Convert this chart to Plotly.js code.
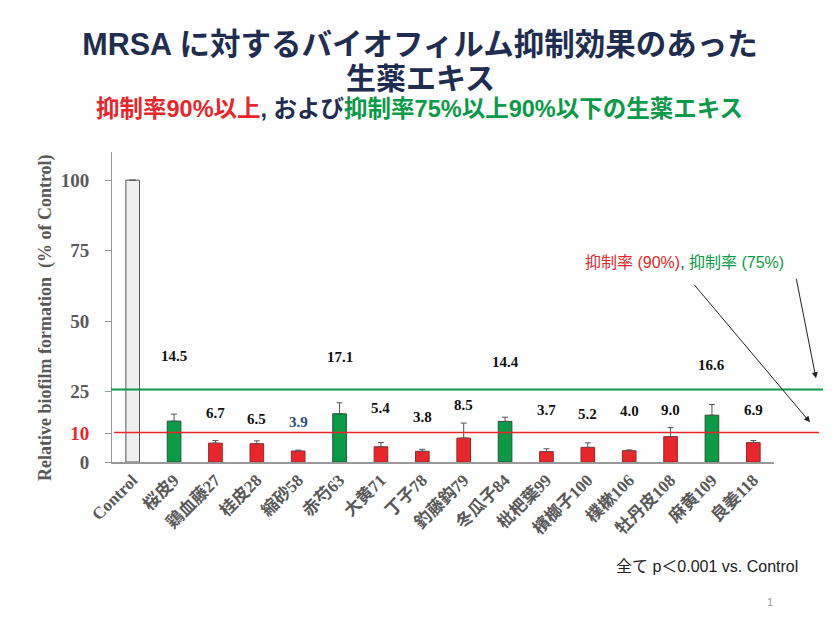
<!DOCTYPE html>
<html>
<head>
<meta charset="utf-8">
<script src="https://cdn.plot.ly/plotly-3.0.1.min.js"></script>
<style>html,body{margin:0;padding:0;background:#fff;}#chart{width:840px;height:632px;}</style>
</head>
<body>
<div id="chart"></div>
<script>
// ---- data ----
const categories = ["Control","桜皮9","鶏血藤27","桂皮28","縮砂58","赤芍63","大黄71","丁子78","釣藤鈎79","冬瓜子84","枇杷葉99","檳榔子100","樸樕106","牡丹皮108","麻黄109","良姜118"];
const values     = [100, 14.5, 6.7, 6.5, 3.9, 17.1, 5.4, 3.8, 8.5, 14.4, 3.7, 5.2, 4.0, 9.0, 16.6, 6.9];
const errors     = [null, 2.5, 0.9, 1.0, 0.3, 3.9, 1.5, 0.7, 5.3, 1.5, 1.0, 1.6, 0.3, 3.2, 3.8, 0.7];
const groups     = ["control","75","90","90","90","75","90","90","90","75","90","90","90","90","75","90"];
const valueLabels = ["", "14.5","6.7","6.5","3.9","17.1","5.4","3.8","8.5","14.4","3.7","5.2","4.0","9.0","16.6","6.9"];
const labelHeights = [null, 37.6, 17.4, 15.2, 14.2, 37.3, 19.0, 16.0, 20.1, 35.5, 18.6, 17.2, 18.0, 18.4, 34.3, 18.4];
const threshold90 = 10.5;   // 抑制率90% line (drawn at ~10)
const threshold75 = 25.7;   // 抑制率75% line (drawn at ~25)
const yTickVals = [0, 10, 25, 50, 75, 100];
const yTickText = ["0", "10", "25", "50", "75", "100"];

// ---- styles ----
const RED = "#e8262c", GREEN = "#0a9a48", NAVY = "#1f2d50", GRAY = "#595959";
const fillFor = {control: "#efefef", "90": RED, "75": GREEN};
const lineFor = {control: "#555555", "90": "#9a2a2a", "75": "#1f5a30"};

const W = 840, H = 632, ML = 112, MR = 66, MT = 152, MB = 170;
const plotH = H - MT - MB, plotW = W - ML - MR;
const py = p => (H - MB - p) / plotH;          // pixel y -> paper y
const px = p => (p - ML) / plotW;              // pixel x -> paper x

const trace = {
  type: "bar",
  x: categories,
  y: values,
  width: 0.33,
  marker: {
    color: groups.map(g => fillFor[g]),
    line: {color: groups.map(g => lineFor[g]), width: 1}
  },
  error_y: {type: "data", symmetric: false, array: errors, arrayminus: errors.map(() => 0),
            color: "#555555", thickness: 1, width: 3, visible: true},
  hoverinfo: "x+y"
};

const annotations = [];
categories.forEach((c, i) => {
  if (!valueLabels[i]) return;
  annotations.push({
    x: c, y: labelHeights[i], xref: "x", yref: "y", text: "<b>" + valueLabels[i] + "</b>",
    showarrow: false,
    font: {family: "Liberation Serif, serif", size: 15, color: valueLabels[i] === "3.9" ? "#2c4a80" : "#111111"}
  });
});

// title line 2 and subtitle
annotations.push({
  xref: "paper", yref: "paper", x: px(420), y: py(79), xanchor: "center", yanchor: "middle",
  text: "<b>生薬エキス</b>", showarrow: false,
  font: {family: "Liberation Sans, Noto Sans CJK JP", size: 30, color: NAVY}
});
annotations.push({
  xref: "paper", yref: "paper", x: px(419), y: py(109), xanchor: "center", yanchor: "middle",
  text: '<b><span style="color:' + RED + '">抑制率90%以上</span>, および<span style="color:' + GREEN + '">抑制率75%以上90%以下の生薬エキス</span></b>',
  showarrow: false,
  font: {family: "Liberation Sans, Noto Sans CJK JP", size: 23.5, color: NAVY}
});
// y axis title
annotations.push({
  xref: "paper", yref: "paper", x: px(45), y: py(318), xanchor: "center", yanchor: "middle",
  textangle: -90, text: "<b>Relative biofilm formation  (% of Control)</b>", showarrow: false,
  font: {family: "Liberation Serif, serif", size: 18, color: GRAY}
});
// threshold legend text
annotations.push({
  xref: "paper", yref: "paper", x: px(684), y: py(262), xanchor: "center", yanchor: "middle",
  text: '<span style="color:' + RED + '">抑制率 (90%)</span><span style="color:#333">, </span><span style="color:' + GREEN + '">抑制率 (75%)</span>',
  showarrow: false,
  font: {family: "Liberation Sans, Noto Sans CJK JP", size: 16}
});
// arrows
annotations.push({
  xref: "paper", yref: "y", x: px(810), y: 14.1, text: "", showarrow: true,
  ax: -117, ay: -139, arrowhead: 2, arrowsize: 1.2, arrowwidth: 1, arrowcolor: "#222222"
});
annotations.push({
  xref: "paper", yref: "y", x: px(816), y: 29.7, text: "", showarrow: true,
  ax: -20, ay: -101, arrowhead: 2, arrowsize: 1.2, arrowwidth: 1, arrowcolor: "#222222"
});
// footnote & page number
annotations.push({
  xref: "paper", yref: "paper", x: px(707), y: py(566), xanchor: "center", yanchor: "middle",
  text: "全て p＜0.001 vs. Control", showarrow: false,
  font: {family: "Liberation Sans, Noto Sans CJK JP", size: 16, color: "#222222"}
});
annotations.push({
  xref: "paper", yref: "paper", x: px(770), y: py(602), xanchor: "center", yanchor: "middle",
  text: "1", showarrow: false,
  font: {family: "Liberation Sans, sans-serif", size: 11, color: "#999999"}
});

const shapes = [
  {type: "line", xref: "paper", yref: "y", x0: px(114), x1: px(819), y0: threshold90, y1: threshold90,
   line: {color: RED, width: 1.5}},
  {type: "line", xref: "paper", yref: "y", x0: px(111), x1: px(823), y0: threshold75, y1: threshold75,
   line: {color: GREEN, width: 2}}
];

const layout = {
  width: W, height: H,
  margin: {l: ML, r: MR, t: MT, b: MB},
  paper_bgcolor: "#ffffff", plot_bgcolor: "#ffffff",
  showlegend: false,
  title: {
    text: "<b>MRSA に対するバイオフィルム抑制効果のあった</b>",
    x: 0.5, xanchor: "center", xref: "container",
    y: 1 - 44 / H, yanchor: "middle", yref: "container",
    font: {family: "Liberation Sans, Noto Sans CJK JP", size: 30.5, color: NAVY}
  },
  xaxis: {
    type: "category", range: [-0.5, 15.5],
    showline: true, linecolor: "#999999", linewidth: 1.5,
    ticks: "", tickangle: -45,
    tickvals: categories,
    ticktext: categories.map(c => "<b>" + c + "</b>"),
    tickfont: {family: "Liberation Serif, Noto Sans CJK JP", size: 17, color: GRAY},
    showgrid: false, zeroline: false, fixedrange: true
  },
  yaxis: {
    range: [0, 110],
    showline: true, linecolor: "#999999", linewidth: 1,
    ticks: "outside", ticklen: 6, tickcolor: "#999999",
    tickvals: yTickVals,
    ticktext: yTickText.map(t => t === "10" ? '<b><span style="color:' + RED + '">10</span></b>' : "<b>" + t + "</b>"),
    tickfont: {family: "Liberation Serif, serif", size: 19, color: GRAY},
    ticklabelstandoff: 12,
    showgrid: false, zeroline: false, fixedrange: true
  },
  bargap: 0.5,
  annotations: annotations,
  shapes: shapes
};

Plotly.newPlot("chart", [trace], layout, {displayModeBar: false, staticPlot: true});
</script>
</body>
</html>
